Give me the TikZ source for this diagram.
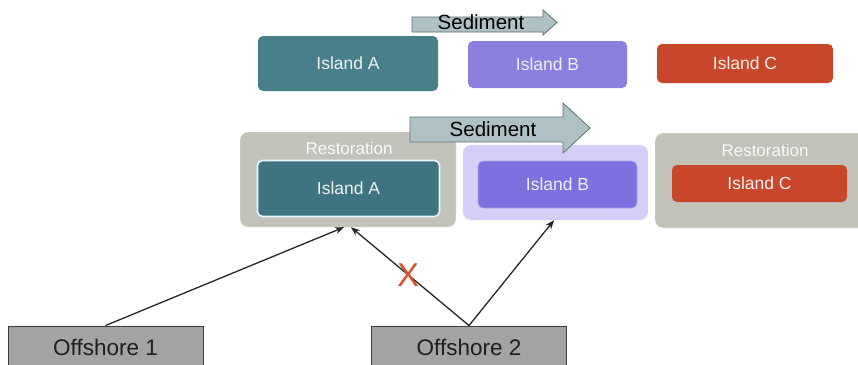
\documentclass[tikz,border=0pt]{standalone}
\usepackage{fontspec}
\setmainfont{Liberation Sans}
\usetikzlibrary{positioning,shapes,arrows.meta}

\definecolor{tealtop}{HTML}{47808A}
\definecolor{tealmid}{HTML}{3D7480}
\definecolor{purptop}{HTML}{8B80E0}
\definecolor{purpmid}{HTML}{7D71E2}
\definecolor{purpglow}{HTML}{D4CFF6}
\definecolor{redisle}{HTML}{C8472A}
\definecolor{restgray}{HTML}{C2C1BA}
\definecolor{sedfill}{HTML}{AEC2C5}
\definecolor{seddraw}{HTML}{5F6E70}
\definecolor{offfill}{HTML}{A3A3A3}
\definecolor{offdraw}{HTML}{3C3C3C}
\definecolor{xred}{HTML}{D9532B}

\begin{document}
\begin{tikzpicture}[x=1pt, y=-1pt,
    island/.style={rectangle, rounded corners=5pt, text=white!94!black, inner sep=0pt,
        font=\fontsize{17.5}{20}\selectfont},
    restore/.style={rectangle, rounded corners=8pt, fill=restgray, draw=white!85!restgray, inner sep=0pt},
    restlabel/.style={text=white!92!restgray, font=\fontsize{17}{20}\selectfont},
    sedarrow/.style={fill=sedfill, draw=seddraw, line width=0.8pt},
    sedlabel/.style={font=\fontsize{20.5}{24}\selectfont},
    offshore/.style={rectangle, fill=offfill, draw=offdraw, line width=0.9pt, inner sep=0pt,
        minimum width=195pt, minimum height=42pt, text=black!88, font=\fontsize{22.5}{26}\selectfont},
    arrow/.style={-{Stealth[length=9pt,width=7pt]},line width=1.3pt,black!85}
]
    \useasboundingbox (0,0) rectangle (858,364);
    \clip (0,0) rectangle (858,364);

    % top row, before restoration
    \node[island, fill=tealtop, minimum width=180pt, minimum height=55pt] (islandAtop) at (348,63.5) {Island A};
    \node[island, fill=purptop, minimum width=159pt, minimum height=47pt] (islandBtop) at (547.5,64.5) {Island B};
    \node[island, fill=redisle, minimum width=176pt, minimum height=39pt] (islandCtop) at (745,63.5) {Island C};

    \filldraw[sedarrow] (412,17) -- (543,17) -- (543,10) -- (557,22.5) -- (543,35) -- (543,32) -- (412,32) -- cycle;
    \node[sedlabel] (sedtop) at (481,22) {Sediment};

    % middle row, with restoration
    \node[restore, minimum width=216pt, minimum height=95pt] (restA) at (348,179.5) {};
    \node[restlabel] (restAlabel) at (349,148) {Restoration};
    \node[island, fill=tealmid, draw=cyan!10!white, line width=1.6pt, minimum width=182pt, minimum height=56pt] (islandA) at (348.5,188.5) {Island A};

    \node[rectangle, rounded corners=8pt, fill=purpglow, minimum width=185pt, minimum height=75pt] (glowB) at (555.5,182.5) {};
    \node[island, fill=purpmid, draw=purptop!70!white, line width=0.8pt, minimum width=159pt, minimum height=47pt] (islandB) at (557.5,184.5) {Island B};

    \node[restore, minimum width=212pt, minimum height=95pt] (restC) at (761,180.5) {};
    \node[restlabel] (restClabel) at (765,150) {Restoration};
    \node[island, fill=redisle, minimum width=175pt, minimum height=37pt] (islandC) at (759.5,183.5) {Island C};

    \filldraw[sedarrow] (410,117) -- (563,117) -- (563,103) -- (590,128) -- (563,153) -- (563,142) -- (410,142) -- cycle;
    \node[sedlabel] (sedmid) at (493,129) {Sediment};

    % offshore sources
    \node[offshore] (off1) at (105.5,347) {Offshore 1};
    \node[offshore] (off2) at (469,347) {Offshore 2};

    \draw[arrow] (off1.north) -- ([xshift=-4pt]restA.south);
    \draw[arrow] (off2.north) -- ([xshift=3pt]restA.south);
    \draw[arrow] (off2.north) -- ([xshift=-1.5pt]glowB.south);

    \node[text=xred, font=\fontsize{33}{36}\selectfont] (crossX) at (408,275) {X};
\end{tikzpicture}
\end{document}
